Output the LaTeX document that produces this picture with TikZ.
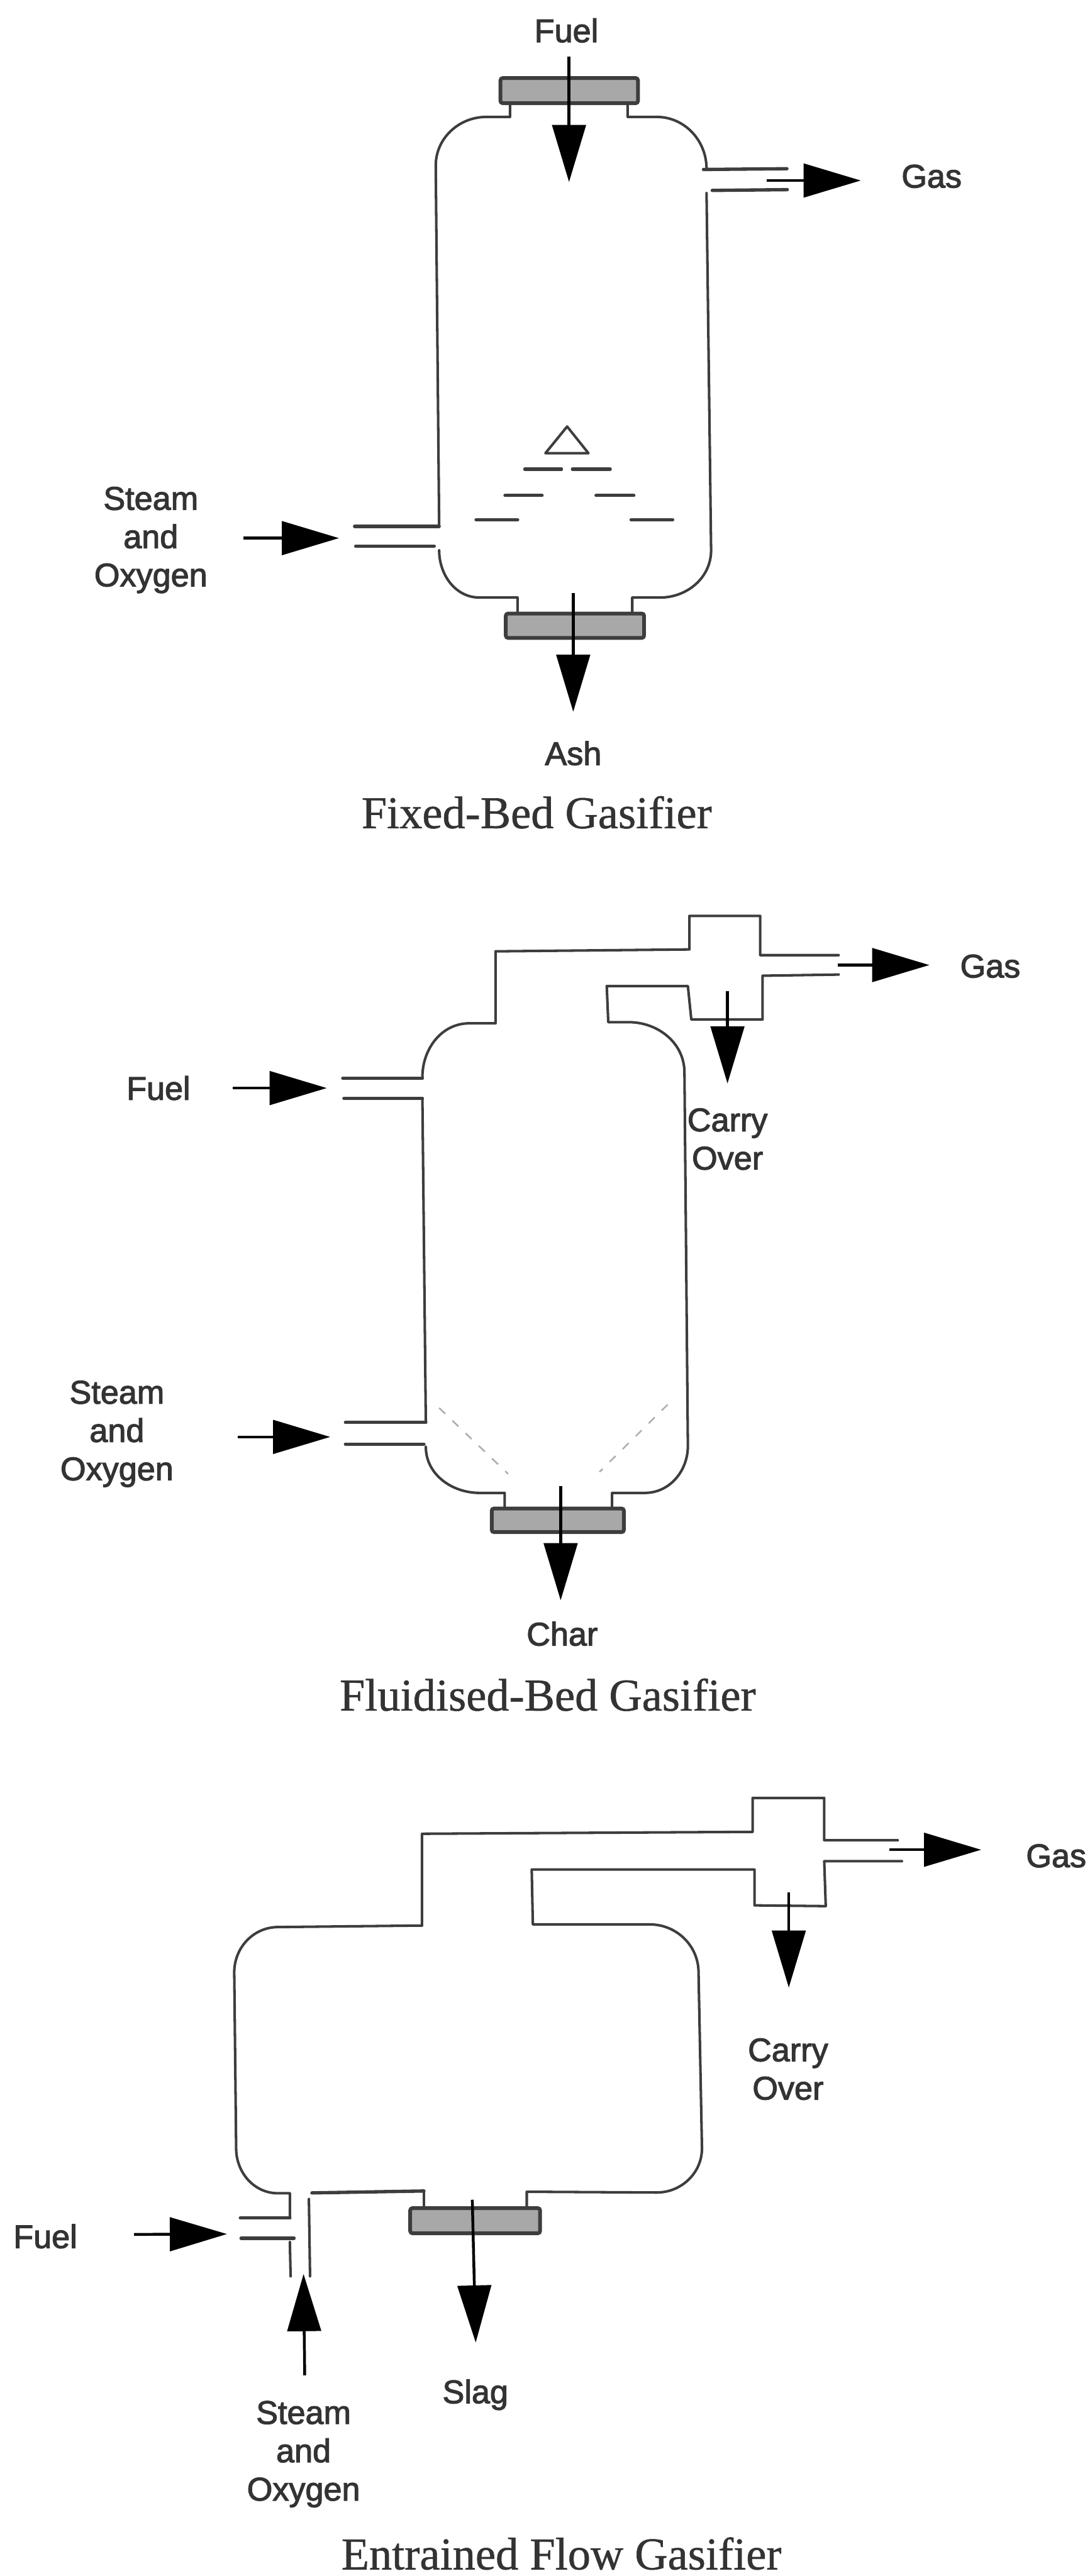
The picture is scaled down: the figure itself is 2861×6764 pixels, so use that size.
\documentclass[tikz,border=0pt]{standalone}
\usepackage{fontspec}
\setmainfont{Liberation Sans}
\newfontfamily\labfont[FakeBold=2.2]{Liberation Sans}
\newfontfamily\capfont[FakeBold=0.8]{Liberation Serif}
\usetikzlibrary{arrows.meta}
\definecolor{inkc}{gray}{0.24}
\definecolor{flangec}{gray}{0.66}
\tikzset{
  x=0.01cm,y=-0.01cm,
  wall/.style={draw=inkc,line width=1.9pt,line cap=round,line join=round},
  nozzle/.style={draw=inkc,line width=2.5pt,line cap=round},
  flow/.style={draw=black,line width=2.1pt,-{Triangle[length=1.5cm,width=0.88cm]}},
  flange/.style={draw=inkc,line width=2.8pt,fill=flangec,rounded corners=0.06cm},
  lab/.style={inner sep=0pt,align=center,text=black!80,font=\labfont\fontsize{24.5}{28.6}\selectfont},
  capt/.style={inner sep=0pt,text=black!80,font=\capfont\fontsize{34}{40}\selectfont},
  hopper/.style={draw=black!32,line width=1.2pt,dash pattern=on 0.22cm off 0.26cm},
}
\begin{document}
\begin{tikzpicture}
\useasboundingbox (0,0) rectangle (2861,6764);
% ---------- Fixed-bed ----------
\draw[flange] (1314,205) rectangle (1675,271);
\draw[flange] (1328,1611) rectangle (1691,1675);
\draw[wall] (1339,271) -- (1339,307) -- (1277,307) to[out=180,in=90] (1144,435) -- (1153,1382);
\draw[nozzle] (1153,1382) -- (931,1382);
\draw[nozzle] (934,1434) -- (1140,1434);
\draw[wall] (1153,1445) to[out=-90,in=180] (1259,1569) -- (1359,1569) -- (1359,1611);
\draw[wall] (1660,1611) -- (1660,1569) -- (1733,1569) to[out=0,in=-90] (1867,1445) -- (1855,507);
\draw[wall] (1648,271) -- (1648,307) -- (1724,307) to[out=0,in=90] (1855,443);
\draw[nozzle] (1847,445) -- (2066,443);
\draw[nozzle] (1870,500) -- (2067,498);
\draw[wall] (1432,1190) -- (1545,1190) -- (1489,1120) -- cycle;
\foreach \a/\b/\y in {1378/1474/1232,1503/1602/1232,1326/1423/1301,1565/1664/1301,1250/1359/1365,1657/1766/1365}
  \draw[nozzle] (\a,\y) -- (\b,\y);
\coordinate (a1s) at (1494,148); \coordinate (a1e) at (1494,478);
\coordinate (a2s) at (2013,474); \coordinate (a2e) at (2260,474);
\coordinate (a3s) at (639,1413); \coordinate (a3e) at (890,1413);
\coordinate (a4s) at (1505,1557); \coordinate (a4e) at (1505,1869);
\draw[flow] (a1s) -- (a1e);
\draw[flow] (a2s) -- (a2e);
\draw[flow] (a3s) -- (a3e);
\draw[flow] (a4s) -- (a4e);
\node[lab] (t1) at (1487,80) {Fuel};
\node[lab] (t2) at (2446,463) {Gas};
\node[lab] (t3) at (396,1418) {Steam\\and\\Oxygen};
\node[lab] (t4) at (1505,1978) {Ash};
\node[capt] (c1) at (1409,2133) {Fixed-Bed Gasifier};
% ---------- Fluidised-bed ----------
\draw[flange] (1291,3961) rectangle (1638,4023);
\draw[wall] (1325,3961) -- (1325,3920) -- (1259,3920) to[out=180,in=-90] (1118,3799);
\draw[nozzle] (907,3792) -- (1113,3792);
\draw[nozzle] (907,3735) -- (1118,3735);
\draw[wall] (1118,3735) -- (1109,2884);
\draw[nozzle] (1109,2884) -- (903,2884);
\draw[nozzle] (900,2831) -- (1109,2831);
\draw[wall] (1109,2831) -- (1109,2828) to[out=90,in=180] (1232,2687) -- (1301,2687) -- (1301,2498) -- (1810,2493) -- (1810,2405) -- (1996,2405) -- (1996,2508) -- (2202,2508);
\draw[wall] (2202,2559) -- (2002,2562) -- (2002,2677) -- (1815,2677) -- (1806,2589) -- (1593,2589) -- (1597,2684) -- (1651,2684) to[out=0,in=90] (1797,2816) -- (1806,3797) to[out=-90,in=0] (1693,3920) -- (1607,3920) -- (1607,3961);
\draw[hopper] (1153,3697) -- (1334,3870);
\draw[hopper] (1753,3688) -- (1574,3865);
\coordinate (b1s) at (611,2857); \coordinate (b1e) at (858,2857);
\coordinate (b2s) at (624,3773); \coordinate (b2e) at (867,3773);
\coordinate (b3s) at (2199,2534); \coordinate (b3e) at (2440,2534);
\coordinate (b4s) at (1910,2603); \coordinate (b4e) at (1910,2845);
\coordinate (b5s) at (1472,3902); \coordinate (b5e) at (1472,4202);
\foreach \n in {1,...,5} \draw[flow] (b\n s) -- (b\n e);
\node[lab] (u1) at (416,2857) {Fuel};
\node[lab] (u2) at (2600,2537) {Gas};
\node[lab] (u3) at (1910,2991) {Carry\\Over};
\node[lab] (u4) at (307,3765) {Steam\\and\\Oxygen};
\node[lab] (u5) at (1476,4290) {Char};
\node[capt] (c2) at (1438,4450) {Fluidised-Bed Gasifier};
% ---------- Entrained flow ----------
\draw[flange] (1077,5798) rectangle (1418,5864);
\draw[wall] (1108,5056) -- (1108,4815) -- (1976,4810) -- (1976,4721) -- (2164,4721) -- (2164,4832) -- (2357,4832);
\draw[wall] (1108,5056) -- (730,5060) to[out=180,in=90] (615,5179) -- (620,5641) to[out=-90,in=180] (730,5759) -- (761,5759) -- (761,5824);
\draw[nozzle] (761,5824) -- (631,5824);
\draw[nozzle] (633,5877) -- (772,5877);
\draw[wall] (761,5887) -- (763,5977);
\draw[wall] (811,5774) -- (814,5977);
\draw[nozzle] (819,5758) -- (1113,5753);
\draw[wall] (1113,5753) -- (1113,5798);
\draw[wall] (2368,4887) -- (2164,4887) -- (2168,5005) -- (1981,5003) -- (1981,4909) -- (1396,4909) -- (1399,5053) -- (1706,5053) to[out=0,in=90] (1834,5179) -- (1843,5641) to[out=-90,in=0] (1724,5757) -- (1383,5755) -- (1383,5798);
\coordinate (d1s) at (352,5867); \coordinate (d1e) at (596,5866);
\coordinate (d2s) at (800,6237); \coordinate (d2e) at (797,5971);
\coordinate (d3s) at (2335,4857); \coordinate (d3e) at (2576,4857);
\coordinate (d4s) at (2071,4969); \coordinate (d4e) at (2071,5219);
\coordinate (d5s) at (1240,5776); \coordinate (d5e) at (1249,6151);
\foreach \n in {1,...,5} \draw[flow] (d\n s) -- (d\n e);
\node[lab] (v1) at (119,5872) {Fuel};
\node[lab] (v2) at (2773,4873) {Gas};
\node[lab] (v3) at (2069,5433) {Carry\\Over};
\node[lab] (v4) at (1248,6288) {Slag};
\node[lab] (v5) at (797,6444) {Steam\\and\\Oxygen};
\node[capt] (c3) at (1474,6705) {Entrained Flow Gasifier};
\end{tikzpicture}
\end{document}
